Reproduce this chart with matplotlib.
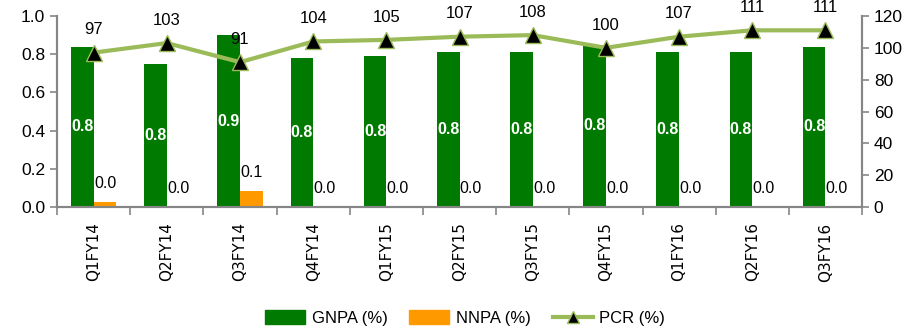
import numpy as np
import matplotlib
matplotlib.use("Agg")
import matplotlib.pyplot as plt
from matplotlib.lines import Line2D
from matplotlib.patches import Patch

quarters = ["Q1FY14", "Q2FY14", "Q3FY14", "Q4FY14", "Q1FY15", "Q2FY15",
            "Q3FY15", "Q4FY15", "Q1FY16", "Q2FY16", "Q3FY16"]
gnpa = [0.84, 0.75, 0.90, 0.78, 0.79, 0.81, 0.81, 0.85, 0.81, 0.81, 0.84]
gnpa_lbl = ["0.8", "0.8", "0.9", "0.8", "0.8", "0.8", "0.8", "0.8", "0.8", "0.8", "0.8"]
nnpa = [0.028, 0.0, 0.084, 0.0, 0.0, 0.0, 0.0, 0.0, 0.0, 0.0, 0.0]
nnpa_lbl = ["0.0", "0.0", "0.1", "0.0", "0.0", "0.0", "0.0", "0.0", "0.0", "0.0", "0.0"]
pcr = [97, 103, 91, 104, 105, 107, 108, 100, 107, 111, 111]

plt.rcParams['font.family'] = ['Liberation Sans', 'DejaVu Sans']
grey = "#868686"

fig = plt.figure(figsize=(9.21, 3.33), dpi=100)
ax = fig.add_axes([0.062, 0.378, 0.874, 0.574])
ax2 = ax.twinx()

x = np.arange(len(quarters))
w = 0.31
ax.bar(x - w / 2, gnpa, w, color="#007A00", zorder=2)
ax.bar(x + w / 2, nnpa, w, color="#FF9900", zorder=2)

for i in x:
    ax.text(i - w / 2, gnpa[i] / 2, gnpa_lbl[i], color="white", fontweight="bold",
            ha="center", va="center", fontsize=11.5, zorder=3)
    ax.text(i + w / 2, nnpa[i] + 0.095, nnpa_lbl[i], color="black",
            ha="center", va="center", fontsize=11.5, zorder=3)

ax2.plot(x, pcr, color="#9BBB59", lw=3, marker="^", markersize=11,
         markerfacecolor="black", markeredgecolor="#9BBB59", markeredgewidth=1, zorder=4)
for i in x:
    ax2.text(i, pcr[i] + 11.5, str(pcr[i]), ha="center", va="baseline", fontsize=12,
             clip_on=False)

ax.set_xlim(-0.5, len(quarters) - 0.5)
ax.set_ylim(0, 1.0)
ax.set_yticks(np.arange(0, 1.01, 0.2))
ax.set_yticklabels(["%.1f" % v for v in np.arange(0, 1.01, 0.2)])
ax2.set_ylim(0, 120)
ax2.set_yticks(range(0, 121, 20))

ax.set_xticks(x)
ax.set_xticklabels(quarters, rotation=90, fontsize=11, family="DejaVu Sans")
ax.set_xticks(np.arange(-0.5, len(quarters), 1), minor=True)
ax.tick_params(axis="x", which="major", length=0, pad=11)
ax.tick_params(axis="x", which="minor", length=6, color=grey, width=1.2)
ax.tick_params(axis="y", labelsize=12.5, color=grey, length=5, width=1.2)
ax2.tick_params(axis="y", labelsize=12.5, color=grey, length=5, width=1.2)

for a in (ax, ax2):
    a.spines["top"].set_visible(False)
    for s in ("left", "right", "bottom"):
        a.spines[s].set_color(grey)
        a.spines[s].set_linewidth(1.5)

handles = [Patch(color="#007A00", label="GNPA (%)"),
           Patch(color="#FF9900", label="NNPA (%)"),
           Line2D([], [], color="#9BBB59", lw=3, marker="^", markersize=9,
                  markerfacecolor="black", markeredgecolor="#9BBB59", label="PCR (%)")]
fig.legend(handles=handles, loc="center", bbox_to_anchor=(0.505, 0.045), ncol=3,
           frameon=False, fontsize=12, handlelength=2.4, handleheight=0.9,
           columnspacing=1.3, handletextpad=0.4)

fig.savefig("out.png", dpi=100)
